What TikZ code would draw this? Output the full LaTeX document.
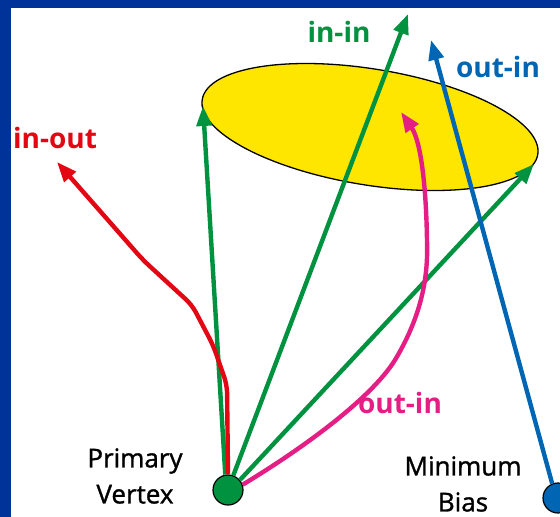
\documentclass[tikz,border=0pt]{standalone}
\usepackage{fontspec}
\setmainfont{Open Sans}
\newfontface\vxfont{Open Sans}[FakeBold=1.2]
\usetikzlibrary{shapes.geometric,arrows.meta,positioning}
\definecolor{frameblue}{RGB}{0,51,153}
\definecolor{trkgreen}{RGB}{0,146,63}
\definecolor{trkred}{RGB}{227,6,19}
\definecolor{trkpink}{RGB}{228,30,132}
\definecolor{trkblue}{RGB}{0,102,179}
\definecolor{discyellow}{RGB}{255,230,0}

\tikzset{
  track/.style={line width=4.4pt, -{Triangle[length=20pt,width=15pt]}},
  vertex/.style={circle, draw=black, line width=1.2pt, minimum size=30pt, inner sep=0pt},
  tracklabel/.style={anchor=base, font=\fontsize{28}{30}\selectfont\bfseries},
  vxlabel/.style={align=center, font=\fontsize{26}{36}\selectfont\vxfont},
}

\begin{document}
\begin{tikzpicture}[x=1pt,y=-1pt]
    \useasboundingbox (0,0) rectangle (560,517);

    % --- frame ---
    \fill[frameblue] (0,0) rectangle (560,8);
    \fill[frameblue] (0,0) rectangle (11,517);

    % --- disc ---
    \node[ellipse, draw, line width=1.3pt, fill=discyellow, minimum width=340pt,
          minimum height=116pt, inner sep=0pt, rotate=-9.3] (disc) at (370,127) {};

    % --- vertices ---
    \node[vertex, fill=trkgreen] (pv) at (228,490) {};
    \node[vertex, fill=trkblue] (mb) at (558,498) {};
    \node[vxlabel] (pvlabel) at (135,476) {Primary\\Vertex};
    \node[vxlabel] (mblabel) at (463,484) {Minimum\\Bias};

    % track ends
    \coordinate (rimleft) at (203,106);
    \coordinate (topgreen) at (408,14);
    \coordinate (rimright) at (534,164);
    \coordinate (endred) at (57,162);
    \coordinate (endpink) at (401,112);
    \coordinate (endblue) at (431,40);

    % --- in-in tracks ---
    \draw[track, trkgreen] (pv.100) -- (rimleft);
    \draw[track, trkgreen] (pv.70) -- (topgreen);
    \draw[track, trkgreen] (pv.40) -- (rimright);
    \node[tracklabel, trkgreen] (inin) at (339,42) {in-in};

    % --- in-out track ---
    \draw[track, trkred, rounded corners=8pt] (pv.90) -- (227,385) -- (213,345)
        -- (192,305) -- (143,260) -- (endred);
    \node[tracklabel, trkred] (inout) at (55,148) {in-out};

    % --- out-in tracks ---
    \draw[track, trkpink] (pv.20) .. controls (300,450) and (370,400) .. (395,360)
        .. controls (425,310) and (428,270) .. (427,240)
        .. controls (426,180) and (420,140) .. (endpink);
    \node[tracklabel, trkpink] (outinpink) at (400,413) {out-in};
    \draw[track, trkblue] (mb.112) -- (endblue);
    \node[tracklabel, trkblue] (outinblue) at (498,77) {out-in};
\end{tikzpicture}
\end{document}
